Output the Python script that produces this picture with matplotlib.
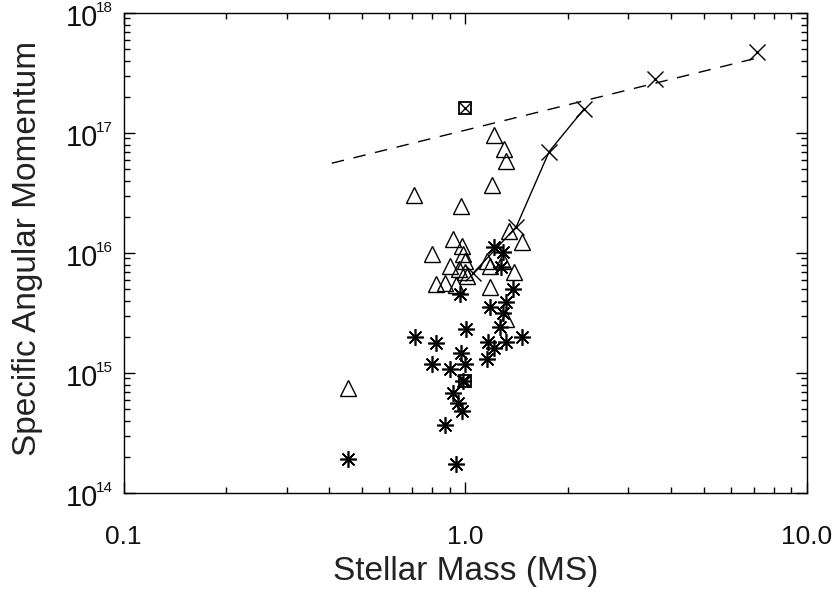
import matplotlib
matplotlib.use("Agg")
import matplotlib.pyplot as plt
from matplotlib.ticker import LogLocator, FixedLocator, NullFormatter
from matplotlib.transforms import blended_transform_factory, offset_copy

plt.rcParams['font.family'] = ['Liberation Sans', 'DejaVu Sans']

# stars (asterisks)
star_mass = [0.454, 0.941, 0.874, 0.980, 0.954, 0.922, 0.987, 0.904, 0.800, 1.000,
             0.973, 0.822, 0.714, 1.007, 0.967, 1.160, 1.210, 1.168, 1.320, 1.470,
             1.260, 1.290, 1.180, 1.320, 1.380, 1.275, 1.290, 1.210]
star_j = [1.92e14, 1.75e14, 3.71e14, 4.86e14, 5.66e14, 6.87e14, 8.65e14, 1.07e15, 1.18e15, 1.18e15,
          1.48e15, 1.77e15, 1.98e15, 2.31e15, 4.54e15, 1.30e15, 1.63e15, 1.83e15, 1.83e15, 1.98e15,
          2.40e15, 3.15e15, 3.53e15, 3.89e15, 5.00e15, 7.60e15, 1.02e16, 1.12e16]

# triangles
tri_mass = [0.454, 0.709, 0.973, 1.216, 1.300, 1.320, 1.200, 0.922, 1.340, 1.470,
            0.800, 0.980, 0.987, 1.000, 0.904, 0.960, 1.013, 1.160, 1.180, 1.390,
            0.822, 0.874, 0.941, 1.180, 1.290, 1.320, 1.000]
tri_j = [7.56e14, 3.06e16, 2.47e16, 9.7e16, 7.4e16, 5.8e16, 3.7e16, 1.31e16, 1.53e16, 1.24e16,
         9.8e15, 1.15e16, 9.8e15, 8.6e15, 7.8e15, 7.35e15, 6.4e15, 8.6e15, 7.8e15, 6.9e15,
         5.5e15, 5.6e15, 5.4e15, 5.2e15, 8.6e15, 2.8e15, 6.9e15]

# sun and solar system (boxed crosses)
box_mass = [1.0, 1.0]
box_j = [1.62e17, 8.65e14]

# crosses joined by a solid line
track_mass = [1.055, 1.41, 1.76, 2.22]
track_j = [6.8e15, 1.65e16, 7.0e16, 1.57e17]

# extra crosses on the dashed line
upper_mass = [3.58, 7.13]
upper_j = [2.8e17, 4.7e17]

# dashed line end points
dash_mass = [0.407, 7.1]
dash_j = [5.6e16, 4.2e17]

xtick_vals = [0.1, 1.0, 10.0]
xtick_labels = ['0.1', '1.0', '10.0']
ytick_vals = [1e14, 1e15, 1e16, 1e17, 1e18]
ytick_exps = ['14', '15', '16', '17', '18']

fig = plt.figure(figsize=(8.35, 5.89), dpi=100)
ax = fig.add_axes([123.5 / 835, 96 / 589, (807 - 123.5) / 835, (493 - 13) / 589])

ax.plot(dash_mass, dash_j, color='black', lw=1.0, ls=(0, (9, 7)))
ax.plot(track_mass, track_j, color='black', lw=1.0, marker='x', ms=11, mew=1.0)
ax.plot(upper_mass, upper_j, ls='none', color='black', marker='x', ms=11, mew=1.0)

ax.plot(tri_mass, tri_j, ls='none', marker='^', ms=11, mfc='none', mec='black', mew=1.0)
ax.plot(star_mass, star_j, ls='none', marker=(8, 2, 0), ms=12, color='black', mew=1.2)

ax.plot(box_mass, box_j, ls='none', marker='s', ms=9, mfc='none', mec='black', mew=1.3)
ax.plot(box_mass, box_j, ls='none', marker='x', ms=8, color='black', mew=1.0)

ax.set_xscale('log')
ax.set_yscale('log')
ax.set_xlim(0.1, 10)
ax.set_ylim(1e14, 1e18)

ax.xaxis.set_major_locator(FixedLocator(xtick_vals))
ax.xaxis.set_minor_locator(LogLocator(base=10, subs=range(2, 10)))
ax.set_xticklabels(xtick_labels)
ax.xaxis.set_minor_formatter(NullFormatter())
ax.yaxis.set_major_locator(FixedLocator(ytick_vals))
ax.yaxis.set_minor_locator(LogLocator(base=10, subs=range(2, 10)))
ax.yaxis.set_major_formatter(NullFormatter())
ax.yaxis.set_minor_formatter(NullFormatter())

# y tick labels as "10" plus a small raised exponent
trans = blended_transform_factory(ax.transAxes, ax.transData)
for v, e in zip(ytick_vals, ytick_exps):
    ax.text(0, v, '10', transform=offset_copy(trans, fig=fig, x=-26, y=-13, units='dots'),
            ha='right', va='baseline', fontsize=21, color='#111111')
    ax.text(0, v, e, transform=offset_copy(trans, fig=fig, x=-11, y=1, units='dots'),
            ha='right', va='baseline', fontsize=11, color='#111111')

ax.tick_params(which='both', direction='in', top=True, right=True, width=1.0, color='black')
ax.tick_params(which='major', length=8)
ax.tick_params(which='minor', length=4)
ax.tick_params(axis='x', which='major', labelsize=19, pad=23, labelcolor='#111111')
for s in ax.spines.values():
    s.set_linewidth(1.0)

ax.set_xlabel('Stellar Mass (MS)', fontsize=24, color='#222222', va='baseline')
ax.xaxis.set_label_coords(0.5, (493 - 580) / 480)
ax.set_ylabel('Specific Angular Momentum', fontsize=24, color='#222222')
ax.yaxis.set_label_coords(-0.118, 0.51)

fig.savefig('out.png', dpi=100)
